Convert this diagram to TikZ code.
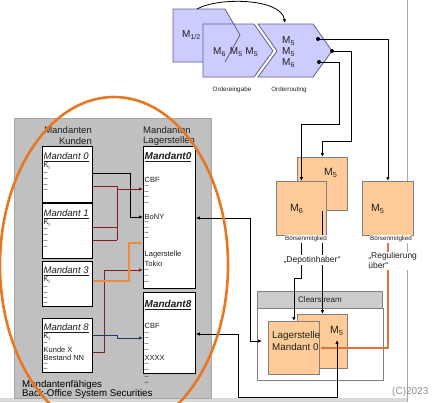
\documentclass[tikz,border=0pt]{standalone}
\usepackage{fontspec}
\setmainfont{Liberation Sans}
\usetikzlibrary{arrows.meta,calc}
\definecolor{lav}{HTML}{CCCCFF}
\definecolor{lavedge}{HTML}{5F5F8F}
\definecolor{peach}{HTML}{FFCC99}
\definecolor{boxedge}{HTML}{808080}
\definecolor{panelgray}{HTML}{C0C0C0}
\definecolor{ellorange}{HTML}{E87722}
\definecolor{lineorange}{HTML}{F08A3C}
\definecolor{regorange}{HTML}{E0743C}
\definecolor{darkred}{HTML}{7F1F1F}
\definecolor{darkblue}{HTML}{1F3B6B}
\definecolor{txtc}{HTML}{1E1E1E}
\begin{document}
\begin{tikzpicture}[x=1pt,y=-1pt,
 wbox/.style={draw=black, fill=white, line width=0.9pt, inner sep=0, anchor=north west},
 pbox/.style={draw=boxedge, fill=peach, line width=0.8pt, inner sep=0, anchor=north west},
 txt/.style={inner sep=0, anchor=west, text=txtc},
 sm/.style={txt, font=\fontsize{7.5}{8}\selectfont},
 dsh/.style={txt, font=\fontsize{7}{8}\selectfont},
 ttl/.style={txt, font=\fontsize{9.5}{10}\selectfont\itshape},
 ttlb/.style={txt, font=\fontsize{10}{11}\selectfont\bfseries\itshape},
 hdr/.style={txt, font=\fontsize{9.5}{10}\selectfont},
 mlab/.style={txt, font=\fontsize{10.5}{11}\selectfont},
 tinylab/.style={inner sep=0.6pt, fill=white, text=txtc, font=\fontsize{6.3}{7}\selectfont},
 midlab/.style={inner sep=0.6pt, fill=white, text=txtc, font=\fontsize{8.5}{10}\selectfont},
 conn/.style={draw=black, line width=0.8pt},
 tip/.style={-{Latex[length=4pt,width=3.5pt]}},
 dtip/.style={{Latex[length=4pt,width=3.5pt]}-{Latex[length=4pt,width=3.5pt]}},
 rconn/.style={draw=darkred, line width=0.9pt},
 dot/.style={circle, fill=black, inner sep=0, minimum size=4pt},
]
\useasboundingbox (0,0) rectangle (433,402);
\clip (0,0) rectangle (433,402);

% background strips
\fill[gray!30] (0,398) rectangle (407,402);
\draw[gray!70, line width=0.8pt] (407,0) -- (407,402);

% ---------- top process shapes ----------
\filldraw[fill=lav, draw=lavedge, line width=0.8pt] (173,9) -- (225,9) -- (240,35) -- (225,62) -- (173,62) -- cycle;
\filldraw[fill=lav, draw=lavedge, line width=0.8pt] (203,24) -- (254,24) -- (273,51) -- (254,77) -- (203,77) -- cycle;
\draw[lavedge, line width=0.8pt] (233.6,24) -- (240,35) -- (225,62);
\filldraw[fill=lav, draw=lavedge, line width=0.8pt] (258,24) -- (313,24) -- (332,51) -- (313,77) -- (258,77) -- (277,51) -- cycle;
\node[txt, font=\fontsize{10}{11}\selectfont] (m12) at (182,35) {M\textsubscript{1/2}};
\node[txt, font=\fontsize{10}{11}\selectfont] (m655) at (213,52) {M\textsubscript{6}\hspace{4pt}M\textsubscript{5} M\textsubscript{5}};
\node[txt, font=\fontsize{10}{11}\selectfont] (r1) at (282,41) {M\textsubscript{5}};
\node[txt, font=\fontsize{10}{11}\selectfont] (r2) at (282,52) {M\textsubscript{5}};
\node[txt, font=\fontsize{10}{11}\selectfont] (r3) at (282,63) {M\textsubscript{6}};
\node[tinylab] (oe) at (232,90) {Ordereingabe};
\node[tinylab] (orr) at (289,90) {Orderrouting};
\coordinate (s1top) at (197,9);
\coordinate (s3top) at (285,23);
\draw[conn, tip] (s1top) .. controls (218,-3) and (281,-2) .. (s3top);

% ---------- orange member boxes ----------
\node[pbox, minimum width=50, minimum height=53] (bM5a) at (297,157) {};
\node[pbox, minimum width=50, minimum height=54] (bM6) at (276,181) {};
\node[pbox, minimum width=51, minimum height=54] (bM5r) at (362,181) {};
\node[mlab] (tM5a) at (324,173) {M\textsubscript{5}};
\node[mlab] (tM6) at (290,209) {M\textsubscript{6}};
\node[mlab] (tM5r) at (371,209) {M\textsubscript{5}};

% Clearstream
\node[draw=boxedge, fill=black!20, line width=0.8pt, inner sep=0, anchor=north west, minimum width=125, minimum height=17] (csh) at (257,291) {};
\node[txt, anchor=center, font=\fontsize{8}{9}\selectfont] (csl) at (320,299.5) {Clearstream};
\node[draw=boxedge, fill=white, line width=0.8pt, inner sep=0, anchor=north west, minimum width=126, minimum height=72] (cso) at (257,308) {};
\node[pbox, minimum width=50, minimum height=54] (cM5) at (297,314) {};
\node[pbox, minimum width=51, minimum height=53] (cLag) at (268,321) {};
\node[mlab] (tcM5) at (330,331) {M\textsubscript{5}};
\node[txt, font=\fontsize{9.8}{11}\selectfont] (tlag1) at (272,336) {Lagerstelle};
\node[txt, font=\fontsize{9.8}{11}\selectfont] (tlag2) at (272,347) {Mandant 0};

% routing dots and lines
\node[dot] (d1) at (318,39) {};
\node[dot] (d2) at (332,51) {};
\node[dot] (d3) at (319,62) {};
\draw[conn, tip] (d1.center) -- (bM5r.north |- 0,39) -- (bM5r.north);
\draw[conn, tip] (d2.center) -- (351,51) -- (351,141) -- (bM5a.north |- 0,141) -- (bM5a.north);
\draw[conn, tip] (d3.center) -- (339,62) -- (339,124) -- (bM6.north |- 0,124) -- (bM6.north);
\draw[conn, tip] (bM6.south) -- (bM6.south |- 0,278) -- (cLag.north |- 0,278) -- (cLag.north);
\draw[conn, tip] (bM5a.south) -- (cM5.north);
\draw[draw=regorange, line width=1.3pt, tip] (bM5r.south) |- (cLag.east);

% labels with white background
\node[tinylab] (bm1) at (306,239) {Börsenmitglied};
\node[tinylab] (bm2) at (391,239) {Börsenmitglied};
\node[midlab] (dep) at (312,260) {„Depotinhaber“};
\node[midlab, align=left, anchor=north west, font=\fontsize{8.5}{10}\selectfont] (reg) at (367.5,252) {„Regulierung\\über“};

% ---------- left panel ----------
\node[draw=black!35, fill=panelgray, line width=0.6pt, inner sep=0, anchor=north west, minimum width=197, minimum height=280] (panel) at (14,118) {};
\node[hdr, anchor=east] (hk1) at (92,130) {Mandanten};
\node[hdr, anchor=east] (hk2) at (92,141) {Kunden};
\node[hdr] (hl1) at (143,130) {Mandanten};
\node[hdr] (hl2) at (143,141) {Lagerstellen};
\node[txt, font=\fontsize{9.7}{11}\selectfont, text=black] (bo1) at (22,385) {Mandantenfähiges};
\node[txt, font=\fontsize{9.7}{11}\selectfont, text=black] (bo2) at (22,394) {Back-Office System Securities};

\node[wbox, minimum width=50, minimum height=56] (m0l) at (42,146) {};
\node[wbox, minimum width=50, minimum height=55] (m1l) at (42,203) {};
\node[wbox, minimum width=50, minimum height=45] (m3l) at (42,261) {};
\node[wbox, minimum width=50, minimum height=54] (m8l) at (42,318) {};
\node[wbox, minimum width=52, minimum height=142] (m0r) at (143,146) {};
\node[wbox, minimum width=52, minimum height=81] (m8r) at (143,292) {};

% left box contents
\node[ttl] (t0) at (43.5,157) {\underline{Mandant 0}};
\node[sm] (k0) at (43.5,166) {K\textsubscript{i}};
\foreach \yy [count=\i] in {173,179,185,190} \node[dsh] (da\i) at (43.5,\yy) {–};
\node[ttl] (t1) at (43.5,214) {\underline{Mandant 1}};
\node[sm] (k1) at (43.5,223) {K\textsubscript{i}};
\foreach \yy [count=\i] in {229,235,241,247} \node[dsh] (db\i) at (43.5,\yy) {–};
\node[ttl] (t3) at (43.5,271) {\underline{Mandant 3}};
\node[sm] (k3) at (43.5,280) {K\textsubscript{i}};
\foreach \yy [count=\i] in {287,293,298,303} \node[dsh] (dc\i) at (43.5,\yy) {–};
\node[ttl] (t8) at (43.5,328) {\underline{Mandant 8}};
\node[sm] (k8) at (43.5,337) {K\textsubscript{i}};
\node[dsh] (dd0) at (43.5,343) {–};
\node[sm] (kx) at (43.5,349.5) {Kunde X};
\node[sm] (bnn) at (43.5,357.5) {Bestand NN};
\foreach \yy [count=\i] in {364,369} \node[dsh] (dd\i) at (43.5,\yy) {–};

% right box contents
\node[ttlb] (tr0) at (144.5,157) {\underline{Mandant0}};
\node[sm] (cbf0) at (144.5,180) {CBF};
\foreach \yy [count=\i] in {186,192,197,203} \node[dsh] (de\i) at (144.5,\yy) {–};
\node[sm] (bony) at (144.5,217) {BoNY};
\foreach \yy [count=\i] in {222,228,233,238} \node[dsh] (df\i) at (144.5,\yy) {–};
\node[sm] (lag) at (144.5,255) {Lagerstelle};
\node[sm] (tok) at (144.5,264) {Tokio};
\foreach \yy [count=\i] in {270,276,282} \node[dsh] (dg\i) at (144.5,\yy) {–};
\node[ttlb] (tr8) at (144.5,305) {\underline{Mandant8}};
\node[sm] (cbf8) at (144.5,326) {CBF};
\foreach \yy [count=\i] in {333,338,344,350} \node[dsh] (dh\i) at (144.5,\yy) {–};
\node[sm] (xxxx) at (144.5,358) {XXXX};
\foreach \yy [count=\i] in {364,370,377,383} \node[dsh] (di\i) at (144.5,\yy) {–};

% left connectors
\draw[conn, tip] (m0l.east |- 0,173) -- (130,173) -- (130,217) -- (m0r.west |- 0,217);
\draw[rconn] (m0l.east |- 0,186) -- (117,186) -- (117,240);
\draw[rconn, tip] (117,189) -- (m0r.west |- 0,189);
\draw[rconn] (m1l.east |- 0,227) -- (117,227);
\draw[rconn] (m1l.east |- 0,240) -- (117,240);
\draw[rconn, tip] (m8l.east |- 0,352) -- (104,352) -- (104,270) -- (m0r.west |- 0,270);
\draw[draw=lineorange, line width=1.3pt, tip] (m3l.east |- 0,281) -- (129,281) -- (129,243) -- (m0r.west |- 0,243);
\draw[draw=darkblue, line width=0.9pt, tip] (m8l.east |- 0,335) -- (117,335) -- (117,338) -- (m8r.west |- 0,338);

% connections from back office to Clearstream
\coordinate (csin) at (262,341);
\coordinate (cmtip) at (337,340);
\draw[conn, dtip] (m0r.east |- 0,218) -- (250,218) -- (250,341) -- (csin);
\draw[conn, dtip] (m8r.east |- 0,334) -- (238,334) -- (238,397) -- (337,397) -- (cmtip);

% big orange ellipse
\draw[ellorange, line width=2.6pt] (114,265) ellipse [x radius=114, y radius=168];

\node[txt, text=black!45, font=\fontsize{10}{11}\selectfont] (copy) at (392,392) {(C)2023};
\end{tikzpicture}
\end{document}
